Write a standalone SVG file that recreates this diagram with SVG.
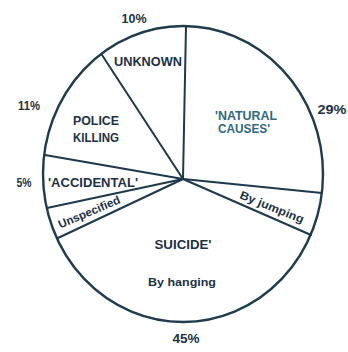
<svg xmlns="http://www.w3.org/2000/svg" width="348" height="352" viewBox="0 0 348 352">
<style>
.rim{fill:none;stroke:#1f3c4f;stroke-width:2.4}
.sp{stroke:#1d394b;stroke-width:2;stroke-linecap:round}
text{font-family:"Liberation Sans",Arial,sans-serif;font-weight:bold;fill:#1c3246;text-anchor:middle;dominant-baseline:central}
.lbl{font-size:12px}
.pct{font-size:12px}
.teal{fill:#2f6a80}
.reg{font-size:11.5px}
</style>
<rect width="348" height="352" fill="#ffffff"/>
<ellipse class="rim" cx="183" cy="174" rx="140" ry="148"/>
<g id="connectors">
<line class="sp" x1="183" y1="179" x2="186" y2="26"/>
<line class="sp" x1="183" y1="179" x2="322" y2="193"/>
<line class="sp" x1="183" y1="179" x2="311" y2="235"/>
<line class="sp" x1="183" y1="179" x2="58" y2="238"/>
<line class="sp" x1="183" y1="179" x2="47" y2="208"/>
<line class="sp" x1="183" y1="179" x2="45" y2="155"/>
<line class="sp" x1="183" y1="179" x2="102" y2="55"/>
</g>
<g id="unknown">
<text class="lbl" x="148" y="62" textLength="68" lengthAdjust="spacingAndGlyphs">UNKNOWN</text>
<text class="pct" x="134" y="19" textLength="25" lengthAdjust="spacingAndGlyphs">10%</text>
</g>
<g id="natural-causes">
<text class="lbl teal" x="246" y="116" textLength="62" lengthAdjust="spacingAndGlyphs">'NATURAL</text>
<text class="lbl teal" x="244" y="129" textLength="52" lengthAdjust="spacingAndGlyphs">CAUSES'</text>
<text class="pct" x="332" y="110" textLength="29" lengthAdjust="spacingAndGlyphs">29%</text>
</g>
<g id="by-jumping">
<text class="reg" x="272" y="207" transform="rotate(22 272 207)" textLength="68" lengthAdjust="spacingAndGlyphs">By jumping</text>
</g>
<g id="suicide">
<text class="lbl" x="183" y="245" textLength="57" lengthAdjust="spacingAndGlyphs">SUICIDE'</text>
<text class="reg" x="182" y="282" textLength="68" lengthAdjust="spacingAndGlyphs">By hanging</text>
<text class="pct" x="186" y="339" textLength="27" lengthAdjust="spacingAndGlyphs">45%</text>
</g>
<g id="unspecified">
<text class="reg" x="89" y="212" transform="rotate(-23 89 212)" textLength="66" lengthAdjust="spacingAndGlyphs">Unspecified</text>
</g>
<g id="accidental">
<text class="lbl" x="93" y="183" textLength="90" lengthAdjust="spacingAndGlyphs">'ACCIDENTAL'</text>
<text class="pct" x="24" y="183" textLength="15" lengthAdjust="spacingAndGlyphs">5%</text>
</g>
<g id="police-killing">
<text class="lbl" x="96" y="121" textLength="46" lengthAdjust="spacingAndGlyphs">POLICE</text>
<text class="lbl" x="96" y="138" textLength="46" lengthAdjust="spacingAndGlyphs">KILLING</text>
<text class="pct" x="29" y="106" textLength="22" lengthAdjust="spacingAndGlyphs">11%</text>
</g>
</svg>
